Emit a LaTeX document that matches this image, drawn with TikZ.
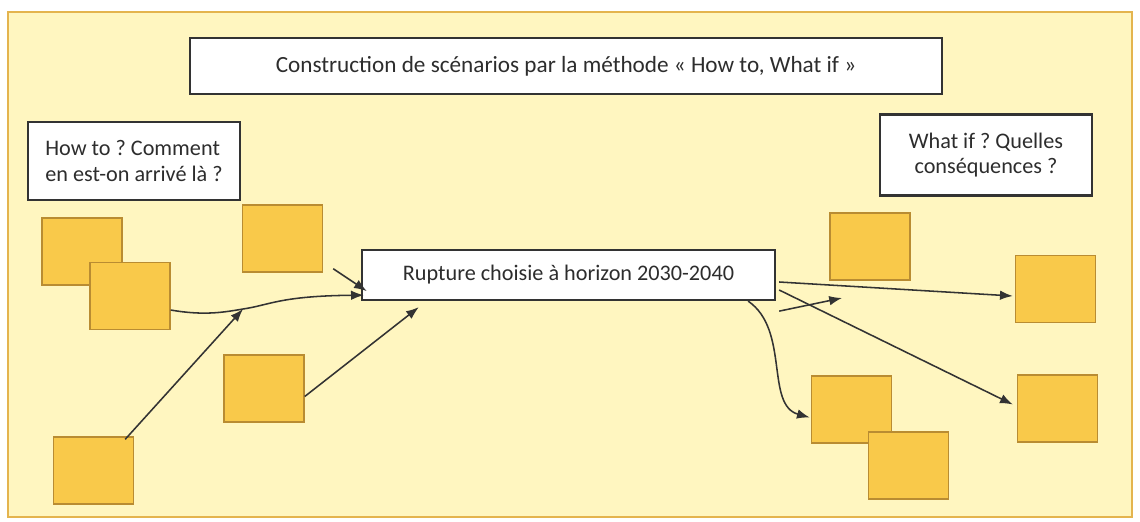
\documentclass[tikz,border=0pt]{standalone}
\usepackage{fontspec}
\setmainfont{Carlito}
\frenchspacing
\usetikzlibrary{positioning,arrows,arrows.meta}
\tikzset{>={Latex[length=3.2mm,width=2.4mm]}}
\definecolor{paper}{RGB}{255,246,192}
\definecolor{frameline}{RGB}{228,180,78}
\definecolor{postit}{RGB}{249,201,74}
\definecolor{postitline}{RGB}{185,140,50}
\definecolor{ink}{RGB}{45,45,45}
\tikzset{
  postit/.style={draw=postitline,fill=postit,line width=1pt,minimum width=2cm,minimum height=1.675cm,inner sep=0pt},
  textbox/.style={draw=black!80,fill=white,line width=1.6pt,text=ink,inner sep=0pt,font=\fontsize{15.8}{18}\selectfont},
  link/.style={->,draw=black!80,line width=1.1pt},
}

\begin{document}
\begin{tikzpicture}[x=0.025cm,y=-0.025cm]
  \useasboundingbox (0,0) rectangle (1140,521);
  \draw[frameline,fill=paper,line width=1.6pt] (8,12) rectangle (1132,517);

  \node[textbox,minimum width=18.8cm,minimum height=1.4cm,font=\fontsize{16.5}{20}\selectfont] (title) at (566,66)
    {Construction de scénarios par la méthode « How to, What if »};
  \node[textbox,minimum width=5.3cm,minimum height=1.95cm,align=left] (howto) at (134,161)
    {How to ? Comment\\en est-on arrivé là ?};
  \node[textbox,minimum width=5.3cm,minimum height=2.025cm,align=center] (whatif) at (986,155)
    {What if ? Quelles\\conséquences ?};
  \node[textbox,minimum width=10.325cm,minimum height=1.25cm] (rup) at (568.5,275)
    {Rupture choisie à horizon 2030-2040};

  \node[postit] (l1) at (82,251.5) {};
  \node[postit] (l2) at (130,296) {};
  \node[postit] (l3) at (282.5,238.5) {};
  \node[postit] (l4) at (264,388.5) {};
  \node[postit] (l5) at (93.5,470.5) {};
  \node[postit] (r1) at (870,246.5) {};
  \node[postit] (r2) at (1055.5,289) {};
  \node[postit] (r3) at (851.5,409.5) {};
  \node[postit] (r4) at (908.5,465.5) {};
  \node[postit] (r5) at (1057.5,408.5) {};

  \coordinate (jn) at (243,309);
  \coordinate (loose) at (842,298);

  \draw[link] ([yshift=-0.35cm]l2.east) .. controls (205,316) and (225,312) .. (jn)
    .. controls (270,305) and (280,296) .. ([shift={(3,-6)}]rup.south west);
  \draw[link] ([shift={(-9,3)}]l5.north east) -- (jn);
  \draw[link] ([shift={(10,-4)}]l3.south east) -- ([shift={(6,-10)}]rup.south west);
  \draw[link] ([yshift=-0.2cm]l4.east) -- ([shift={(58,6)}]rup.south west);

  \draw[link] ([shift={(3,7)}]rup.east) -- ([shift={(-2,7)}]r2.west);
  \draw[link] ([shift={(3,15)}]rup.east) -- ([shift={(-4,-4)}]r5.west);
  \draw[link] ([shift={(3,10)}]rup.south east) -- (loose);
  \draw[link] ([xshift=-0.7cm]rup.south east) .. controls (790,330) and (765,405) .. ([shift={(-1,8)}]r3.west);
\end{tikzpicture}
\end{document}
